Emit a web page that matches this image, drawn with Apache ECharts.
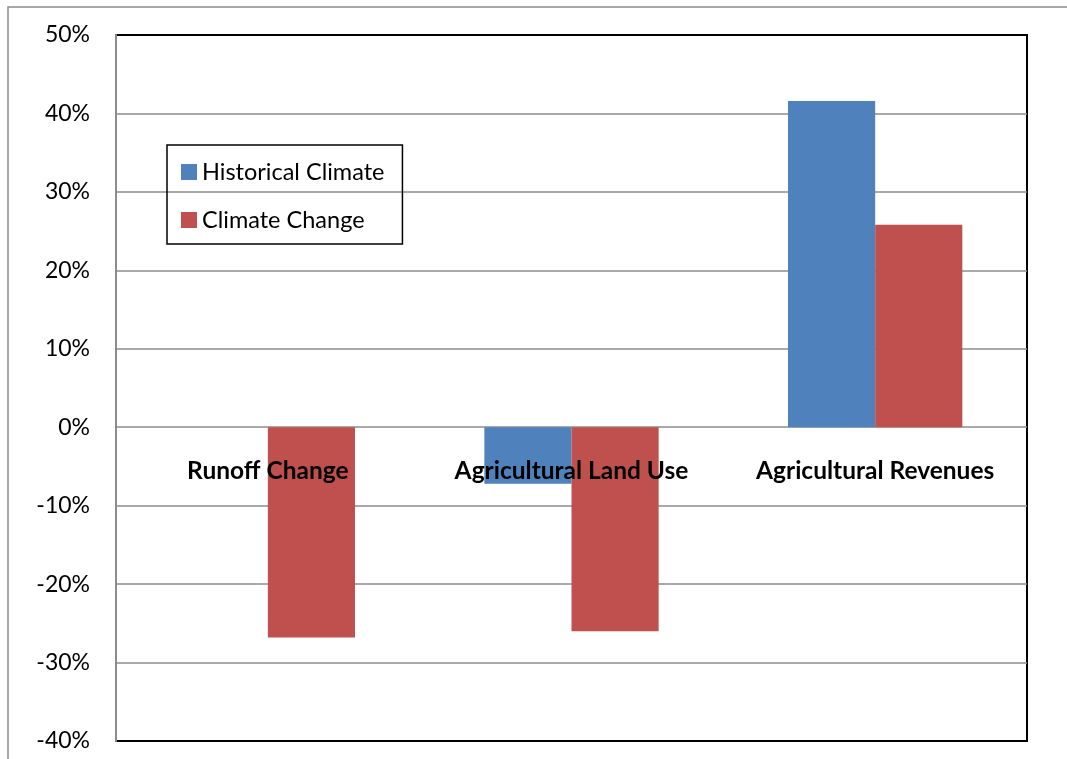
<!DOCTYPE html>
<html>
<head>
<meta charset="utf-8">
<script src="https://cdn.jsdelivr.net/npm/echarts@6/dist/echarts.min.js"></script>
<style>html,body{margin:0;padding:0;background:#fff}#c{width:1067px;height:759px}</style>
</head>
<body>
<div id="c"></div>
<script>
const categories = ['Runoff Change', 'Agricultural Land Use', 'Agricultural Revenues'];
const historicalClimate = [0, -7.2, 41.6];
const climateChange = [-26.8, -26.0, 25.8];
const seriesNames = ['Historical Climate', 'Climate Change'];

const chart = echarts.init(document.getElementById('c'), null, {renderer: 'canvas'});
const font = 'Lato, "Open Sans", sans-serif';
chart.setOption({
  animation: false,
  graphic: [{
    type: 'rect', silent: true, z: -1,
    shape: {x: 8, y: 7, width: 1100, height: 800},
    style: {fill: 'none', stroke: '#8c8c8c', lineWidth: 1.5}
  }],
  grid: {left: 116, top: 35, width: 911, height: 706, show: true, borderColor: '#000', borderWidth: 2,
         containLabel: false, outerBoundsMode: 'none'},
  legend: {
    left: 167, top: 145, orient: 'vertical',
    padding: [15, 18, 12, 14], itemGap: 24,
    borderColor: '#000', borderWidth: 1.5,
    icon: 'rect', itemWidth: 16, itemHeight: 16,
    textStyle: {fontFamily: font, fontSize: 23.5, lineHeight: 24, color: '#000'},
    data: seriesNames
  },
  xAxis: {
    type: 'category', data: categories, z: 10,
    axisLine: {show: false, onZero: false}, axisTick: {show: false},
    axisLabel: {interval: 0, hideOverlap: false, fontFamily: font, fontSize: 24.5, fontWeight: 'bold', color: '#000', margin: -282}
  },
  yAxis: {
    type: 'value', min: -40, max: 50, interval: 10,
    axisLine: {show: true, lineStyle: {color: '#8c8c8c', width: 2}},
    axisTick: {show: false},
    splitLine: {showMinLine: false, showMaxLine: false, lineStyle: {color: '#8c8c8c', width: 1.5}},
    axisLabel: {fontFamily: font, fontSize: 23, color: '#000', margin: 26, formatter: v => v + '%'}
  },
  series: [
    {name: seriesNames[0], type: 'bar', data: historicalClimate, barGap: '0%', barCategoryGap: '42.6%', itemStyle: {color: '#4F81BD'}},
    {name: seriesNames[1], type: 'bar', data: climateChange, barGap: '0%', barCategoryGap: '42.6%', itemStyle: {color: '#C0504D'}}
  ]
});
</script>
</body>
</html>
